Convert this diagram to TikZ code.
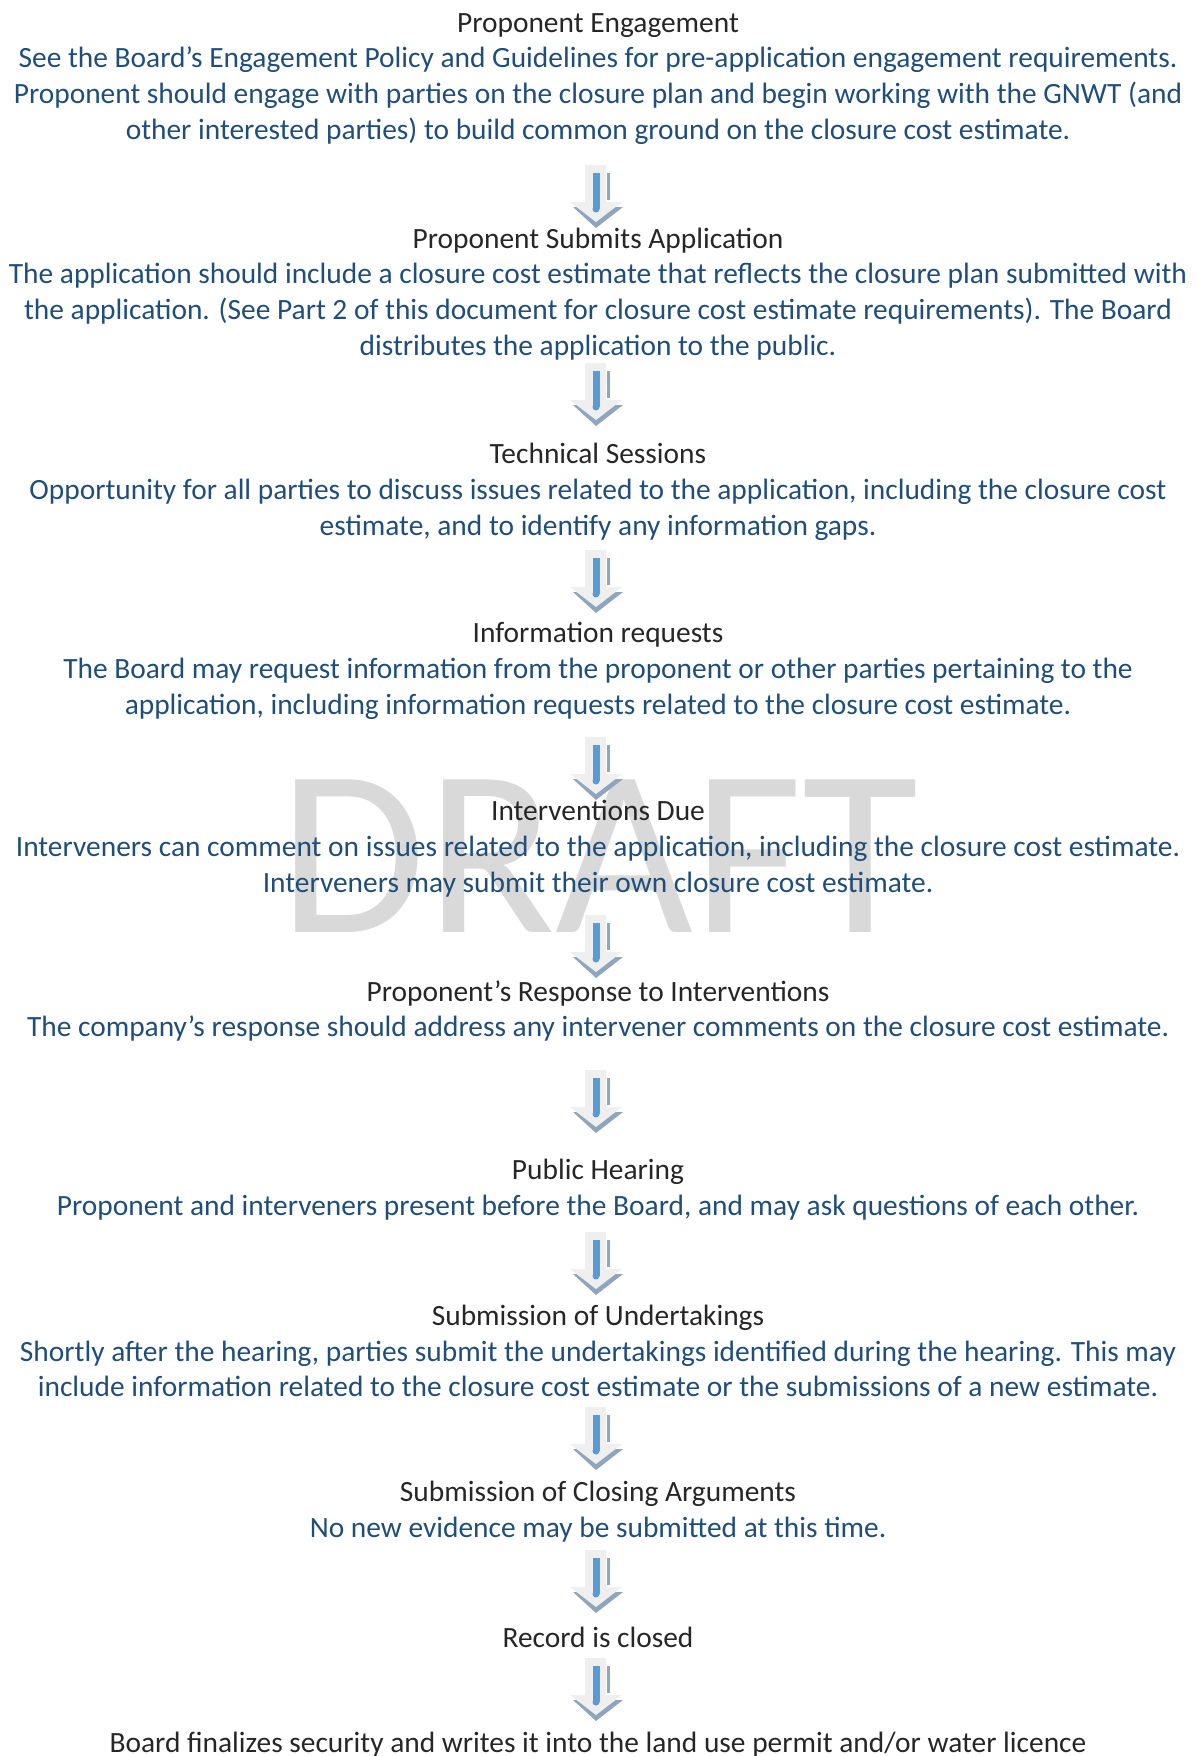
\documentclass[tikz,border=0pt]{standalone}
\usepackage{fontspec}
\setmainfont{Carlito}
\usetikzlibrary{positioning}
\definecolor{titlegray}{HTML}{262626}
\definecolor{bodyblue}{HTML}{1F4E79}
\definecolor{arrowlight}{HTML}{EFEFEF}
\definecolor{arrowblue}{HTML}{5B9BD5}
\definecolor{arrowshade}{HTML}{8FA5BD}
\definecolor{draftgray}{HTML}{D9D9D9}
\tikzset{
    x=0.374pt, y=-0.374pt, % one unit is one pixel of the page, y runs down
    stage/.style={align=center, inner sep=0pt, text=bodyblue,
        font=\fontsize{11}{13.4}\selectfont}, % one step of the process
    title/.style={text=titlegray}, % heading line of a step
    pics/downarrow/.style={code={ % block arrow with its shadow, drawn from its top centre
        \fill[arrowshade] (-23,42) -- (27,42) -- (0,63) -- cycle;
        \fill[arrowshade] (11,8) rectangle (14,35);
        \fill[arrowlight] (-11,0) rectangle (10,38);
        \fill[arrowlight] (-26,37) -- (26,37) -- (0,57) -- cycle;
        \fill[arrowblue] (-3.5,8) rectangle (3.5,44);
        \fill[arrowblue] (0,44) circle (3.5);
    }},
}
\newcommand{\steptitle}[1]{{\color{titlegray}#1}}

\begin{document}
\begin{tikzpicture}
    \useasboundingbox (0,0) rectangle (1197,1756);
    % watermark behind everything
    \node[text=draftgray, font=\fontsize{89}{89}\selectfont] (draft) at (599,856) {DRAFT};

    \node[stage] (engage) at (598,79) {\steptitle{Proponent Engagement}\\
        See the Board’s Engagement Policy and Guidelines for pre-application engagement requirements.\\
        Proponent should engage with parties on the closure plan and begin working with the GNWT (and\\
        other interested parties) to build common ground on the closure cost estimate.};
    \node[stage] (submit) at (598,294) {\steptitle{Proponent Submits Application}\\
        The application should include a closure cost estimate that reflects the closure plan submitted with\\
        the application. (See Part 2 of this document for closure cost estimate requirements). The Board\\
        distributes the application to the public.};
    \node[stage] (tech) at (598,492) {\steptitle{Technical Sessions}\\
        Opportunity for all parties to discuss issues related to the application, including the closure cost\\
        estimate, and to identify any information gaps.};
    \node[stage] (inforeq) at (598,671) {\steptitle{Information requests}\\
        The Board may request information from the proponent or other parties pertaining to the\\
        application, including information requests related to the closure cost estimate.};
    \node[stage] (interv) at (598,849) {\steptitle{Interventions Due}\\
        Interveners can comment on issues related to the application, including the closure cost estimate.\\
        Interveners may submit their own closure cost estimate.};
    \node[stage] (response) at (598,1011) {\steptitle{Proponent’s Response to Interventions}\\
        The company’s response should address any intervener comments on the closure cost estimate.};
    \node[stage] (hearing) at (598,1190) {\steptitle{Public Hearing}\\
        Proponent and interveners present before the Board, and may ask questions of each other.};
    \node[stage] (undertake) at (598,1351) {\steptitle{Submission of Undertakings}\\
        Shortly after the hearing, parties submit the undertakings identified during the hearing. This may\\
        include information related to the closure cost estimate or the submissions of a new estimate.};
    \node[stage] (closing) at (598,1512) {\steptitle{Submission of Closing Arguments}\\
        No new evidence may be submitted at this time.};
    \node[stage, title] (record) at (598,1637) {Record is closed};
    \node[stage, title] (finalize) at (598,1745) {Board finalizes security and writes it into the land use permit and/or water licence};

    % arrows between the steps
    \pic at (596,165) {downarrow};
    \pic at (596,363) {downarrow};
    \pic at (596,550) {downarrow};
    \pic at (596,737) {downarrow};
    \pic at (596,915) {downarrow};
    \pic at (596,1070) {downarrow};
    \pic at (596,1232) {downarrow};
    \pic at (596,1407) {downarrow};
    \pic at (596,1550) {downarrow};
    \pic at (596,1658) {downarrow};
\end{tikzpicture}
\end{document}
